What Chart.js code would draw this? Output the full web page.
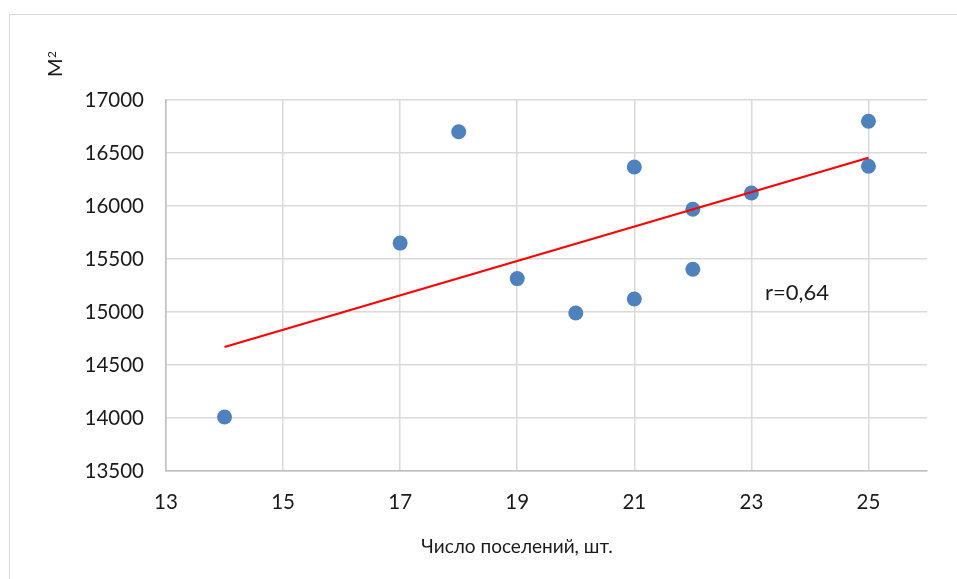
<!DOCTYPE html>
<html>
<head>
<meta charset="utf-8">
<script src="https://cdn.jsdelivr.net/npm/chart.js@4"></script>
<style>
  body { margin: 0; background: #fff; overflow: hidden; }
  #wrap { position: relative; width: 957px; height: 579px; }
</style>
</head>
<body>
<div id="wrap"><canvas id="myChart" width="957" height="579"></canvas></div>
<script>
// settlements count vs area
var settlements = [14, 17, 18, 19, 20, 21, 21, 22, 22, 23, 25, 25];
var area = [14010, 15650, 16700, 15315, 14990, 16368, 15122, 15970, 15403, 16123, 16800, 16375];
// trend line end points
var trendX = [14, 25];
var trendY = [14670, 16455];
var xTicks = [13, 15, 17, 19, 21, 23, 25];
var yTicks = [13500, 14000, 14500, 15000, 15500, 16000, 16500, 17000];
var xTitle = 'Число поселений, шт.';
var yTitle = 'М';
var yTitleSup = '2';
var rLabel = 'r=0,64';

var FONT = 'Lato, "Open Sans", sans-serif';

var points = settlements.map(function (x, i) { return { x: x, y: area[i] }; });
var trend = trendX.map(function (x, i) { return { x: x, y: trendY[i] }; });

var extras = {
  id: 'extras',
  beforeDraw: function (chart) {
    var ctx = chart.ctx;
    ctx.save();
    ctx.strokeStyle = '#d9d9d9';
    ctx.lineWidth = 1;
    ctx.strokeRect(9.5, 14.5, 2000, 2000);
    ctx.restore();
  },
  afterDraw: function (chart) {
    var ctx = chart.ctx;
    ctx.save();
    ctx.fillStyle = '#1a1a1a';
    ctx.font = '19px ' + FONT;
    // axis titles
    ctx.textAlign = 'center';
    ctx.textBaseline = 'middle';
    ctx.fillText(xTitle, 517, 547);
    ctx.save();
    ctx.translate(62, 77);
    ctx.rotate(-Math.PI / 2);
    ctx.textAlign = 'left';
    ctx.textBaseline = 'alphabetic';
    ctx.font = '20px ' + FONT;
    ctx.fillText(yTitle, 0, 0);
    var w = ctx.measureText(yTitle).width;
    ctx.font = '12px ' + FONT;
    ctx.fillText(yTitleSup, w + 0.5, -6);
    ctx.restore();
    // correlation label
    ctx.textAlign = 'left';
    ctx.font = '22px ' + FONT;
    ctx.fillText(rLabel, 765, 293);
    ctx.restore();
  }
};

var ctx = document.getElementById('myChart').getContext('2d');
new Chart(ctx, {
  type: 'scatter',
  data: {
    datasets: [{
      data: trend,
      showLine: true,
      borderColor: '#ff0000',
      borderWidth: 2.2,
      pointRadius: 0,
      order: 0
    }, {
      data: points,
      backgroundColor: '#4f81bd',
      borderWidth: 0,
      pointRadius: 7.5,
      order: 1
    }]
  },
  options: {
    responsive: false,
    animation: false,
    layout: { padding: { top: 100, right: 30, left: 0, bottom: 0 } },
    plugins: {
      legend: { display: false },
      tooltip: { enabled: false }
    },
    scales: {
      x: {
        type: 'linear',
        min: 13,
        max: 26,
        afterBuildTicks: function (s) {
          s.ticks = xTicks.map(function (v) { return { value: v }; });
        },
        afterFit: function (s) { s.height = 108; },
        grid: { color: '#d9d9d9', drawTicks: false, lineWidth: 1.5 },
        border: { color: '#bfbfbf', width: 1.5 },
        ticks: {
          padding: 19,
          color: '#1a1a1a',
          font: { family: FONT, size: 20.5 },
          callback: function (v) { return String(v); }
        }
      },
      y: {
        min: 13500,
        max: 17000,
        afterBuildTicks: function (s) {
          s.ticks = yTicks.map(function (v) { return { value: v }; });
        },
        afterFit: function (s) { s.width = 166; },
        grid: { color: '#d9d9d9', drawTicks: false, lineWidth: 1.5 },
        border: { color: '#bfbfbf', width: 1.5 },
        ticks: {
          padding: 22,
          color: '#1a1a1a',
          font: { family: FONT, size: 20.5 },
          callback: function (v) { return String(v); }
        }
      }
    }
  },
  plugins: [extras]
});
</script>
</body>
</html>
